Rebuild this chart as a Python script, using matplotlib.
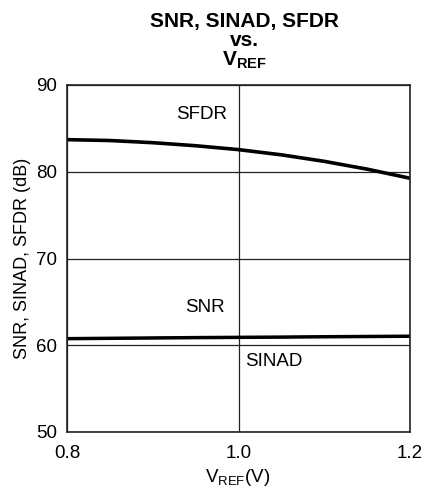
import matplotlib
matplotlib.use('Agg')
import matplotlib.pyplot as plt
import numpy as np

plt.rcParams['font.family'] = ['Liberation Sans', 'DejaVu Sans']
plt.rcParams['mathtext.fontset'] = 'custom'
plt.rcParams['mathtext.rm'] = 'Liberation Sans'
plt.rcParams['mathtext.bf'] = 'Liberation Sans:bold'

# data
vref = [0.8, 0.85, 0.9, 0.95, 1.0, 1.05, 1.1, 1.15, 1.2]
sfdr = [83.7, 83.6, 83.35, 83.0, 82.55, 81.95, 81.2, 80.3, 79.25]
snr = [60.8, 60.84, 60.88, 60.92, 60.95, 60.98, 61.02, 61.05, 61.08]
sinad = [60.72, 60.76, 60.8, 60.84, 60.87, 60.9, 60.94, 60.97, 61.0]

xticks = [0.8, 1.0, 1.2]
xtick_labels = ['0.8', '1.0', '1.2']
yticks = [50, 60, 70, 80, 90]

fig = plt.figure(figsize=(4.25, 4.93), dpi=100)
ax = fig.add_axes([67 / 425, 1 - 432 / 493, (410 - 67) / 425, (432 - 85) / 493])

ax.plot(vref, sfdr, color='black', linewidth=2.6, solid_capstyle='butt')
ax.plot(vref, snr, color='black', linewidth=2.0, solid_capstyle='butt')
ax.plot(vref, sinad, color='black', linewidth=2.0, solid_capstyle='butt')

ax.set_xlim(0.8, 1.2)
ax.set_ylim(50, 90)
ax.set_xticks(xticks)
ax.set_xticklabels(xtick_labels)
ax.set_yticks(yticks)
ax.tick_params(length=0, labelsize=13.5)
ax.tick_params(axis='x', pad=9)
ax.tick_params(axis='y', pad=7)
ax.grid(True, color='#222222', linewidth=0.9)
for s in ax.spines.values():
    s.set_linewidth(1.2)
    s.set_color('#222222')

ax.text(0.987, 86.6, 'SFDR', fontsize=13.5, ha='right', va='center')
ax.text(0.984, 64.3, 'SNR', fontsize=13.5, ha='right', va='center')
ax.text(1.008, 58.1, 'SINAD', fontsize=13.5, ha='left', va='center')

ax.set_ylabel('SNR, SINAD, SFDR (dB)', fontsize=13, labelpad=4)
fig.text(238 / 425, 1 - 478 / 493, r'V$_\mathregular{REF}$(V)', fontsize=13.5,
         ha='center', va='center')

# three-line bold title
fig.text(244 / 425, 1 - 22 / 493, 'SNR, SINAD, SFDR', fontsize=15, fontweight='bold',
         ha='center', va='center')
fig.text(244 / 425, 1 - 41 / 493, 'vs.', fontsize=15, fontweight='bold',
         ha='center', va='center')
fig.text(244 / 425, 1 - 60 / 493, r'V$_\mathbf{REF}$', fontsize=15, fontweight='bold',
         ha='center', va='center')

fig.savefig('out.png', dpi=100)
